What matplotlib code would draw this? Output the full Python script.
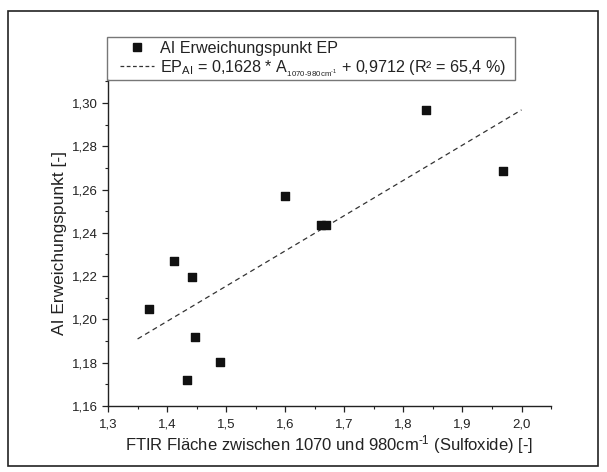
import numpy as np
import matplotlib
matplotlib.use("Agg")
import matplotlib.pyplot as plt
from matplotlib.lines import Line2D
from matplotlib.patches import Rectangle
from matplotlib.ticker import MultipleLocator, FuncFormatter

plt.rcParams["font.family"] = ["Liberation Sans", "DejaVu Sans"]
plt.rcParams["mathtext.fontset"] = "custom"
plt.rcParams["mathtext.rm"] = "Liberation Sans"
plt.rcParams["mathtext.it"] = "Liberation Sans:italic"
plt.rcParams["mathtext.bf"] = "Liberation Sans:bold"

# FTIR Fläche (Sulfoxide) vs. AI Erweichungspunkt
ftir_area = [1.839, 1.968, 1.599, 1.660, 1.669, 1.412, 1.442, 1.370, 1.447, 1.489, 1.433]
ai_ep = [1.2966, 1.2685, 1.2571, 1.2438, 1.2438, 1.2268, 1.2197, 1.2046, 1.1920, 1.1805, 1.1722]

# Regression aus der Legende
slope = 0.1628
intercept = 0.9712
fit_range = [1.35, 2.0]

label_pts = "AI Erweichungspunkt EP"
label_fit = (r"EP$_{\mathrm{AI}}$ = 0,1628 * A$_{{}_{\mathrm{1070\text{-}980cm}^{\text{-}1}}}$"
             r" + 0,9712 (R² = 65,4 %)")


def comma(fmt):
    return FuncFormatter(lambda v, _: fmt.format(v).replace(".", ","))


fig = plt.figure(figsize=(6.07, 4.72), dpi=100)
ax = fig.add_axes([0.178, 0.1398, 0.7298, 0.6907])

ax.scatter(ftir_area, ai_ep, marker="s", s=36, color="#111111", zorder=3)
xf = np.array(fit_range)
ax.plot(xf, slope * xf + intercept, ls=(0, (4, 3)), lw=0.9, color="#333333")

ax.set_xlim(1.3, 2.05)
ax.set_ylim(1.16, 1.3106)
ax.xaxis.set_major_locator(MultipleLocator(0.1))
ax.xaxis.set_minor_locator(MultipleLocator(0.05))
ax.yaxis.set_major_locator(MultipleLocator(0.02))
ax.yaxis.set_minor_locator(MultipleLocator(0.01))
ax.xaxis.set_major_formatter(comma("{:.1f}"))
ax.yaxis.set_major_formatter(comma("{:.2f}"))

for s in ("top", "right"):
    ax.spines[s].set_visible(False)
for s in ("left", "bottom"):
    ax.spines[s].set_linewidth(1.0)
    ax.spines[s].set_color("#222222")
ax.tick_params(which="major", direction="out", length=4, width=0.9,
               labelsize=9.5, colors="#222222", pad=3)
ax.tick_params(axis="x", which="major", pad=5)
ax.tick_params(which="minor", direction="out", length=2.5, width=0.8, colors="#222222")

ax.set_ylabel("AI Erweichungspunkt [-]", fontsize=12.5, color="#222222", labelpad=4)
ax.set_xlabel(r"FTIR Fläche zwischen 1070 und 980cm$^{\text{-}1}$ (Sulfoxide) [-]",
              fontsize=12, color="#222222", labelpad=2)

# Legende ohne eigenen Rahmen, Rahmen separat (linksbündig an der y-Achse)
handles = [
    Line2D([], [], ls="none", marker="s", ms=6, color="#111111"),
    Line2D([], [], ls=(0, (3, 2)), lw=0.9, color="#333333"),
]
leg = fig.legend(handles, [label_pts, label_fit], loc="upper left",
                 bbox_to_anchor=(120 / 607, 1 - 40.5 / 472), fontsize=11.6,
                 frameon=False, handlelength=2.1, handletextpad=0.4,
                 borderpad=0, labelspacing=0.15, borderaxespad=0)
for t in leg.get_texts():
    t.set_color("#222222")

fig.patches.append(Rectangle((107 / 607, 1 - 80 / 472), 408 / 607, 43 / 472,
                             transform=fig.transFigure, fill=False,
                             edgecolor="#777777", lw=1.0))
fig.patches.append(Rectangle((8 / 607, 1 - 466 / 472), 590 / 607, 455 / 472,
                             transform=fig.transFigure, fill=False,
                             edgecolor="#222222", lw=1.2))

fig.savefig("out.png", dpi=100)
